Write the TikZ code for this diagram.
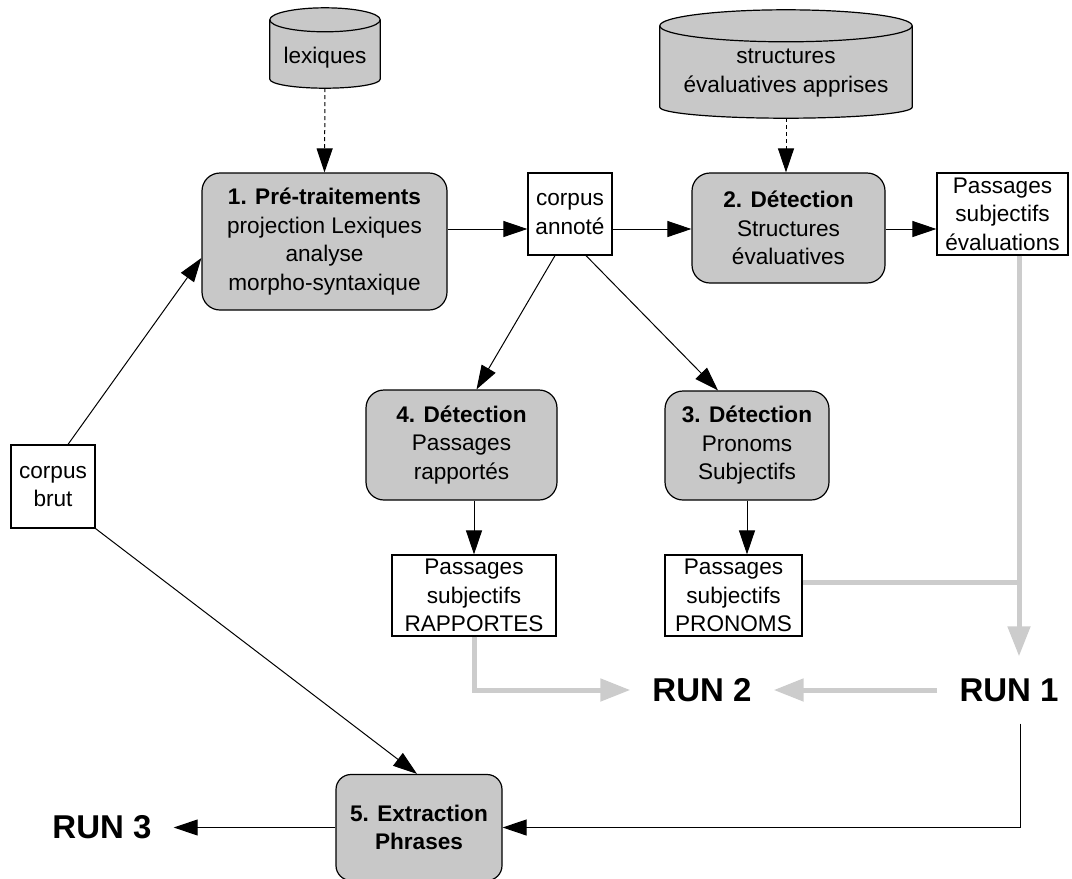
\documentclass[tikz,border=0pt]{standalone}
\usepackage{fontspec}
\setmainfont{Liberation Sans}
\usetikzlibrary{arrows.meta,calc}
\definecolor{boxgray}{RGB}{200,200,200}
\definecolor{linegray}{RGB}{204,204,204}
\newcommand\mycyl[3]{%
  \path[draw, line width=1.2pt, fill=boxgray] let \p1=(#1.north west), \p2=(#1.south east), \n1={(\x2-\x1)/2} in
    (\x1,\y1-#2) -- (\x1,\y2+#3) arc[start angle=180,end angle=360,x radius=\n1,y radius=#3] -- (\x2,\y1-#2) arc[start angle=0,end angle=180,x radius=\n1,y radius=#2] -- cycle;
  \draw[line width=1.2pt] let \p1=(#1.north west), \p2=(#1.south east), \n1={(\x2-\x1)/2} in
    (\x1,\y1-#2) arc[start angle=180,end angle=360,x radius=\n1,y radius=#2];
}
\begin{document}
\begin{tikzpicture}[x=1pt,y=1pt,
  every node/.style={font=\fontsize{22.6}{28.5}\selectfont},
  proc/.style={draw, line width=1.2pt, fill=boxgray, rounded corners=18pt, align=center, inner sep=0pt},
  dat/.style={draw, line width=1.2pt, fill=white, align=center, inner sep=0pt},
  cylnode/.style={inner sep=0pt},
  cyltext/.style={align=center, inner sep=0pt},
  runlbl/.style={font=\fontsize{33}{38}\selectfont\bfseries, inner sep=22pt},
  arr/.style={line width=1pt, -{Triangle[length=24pt,width=16pt]}},
  dashedarr/.style={arr, dash pattern=on 4pt off 3pt},
  grayline/.style={line width=5pt, draw=linegray},
  grayarr/.style={grayline, -{Triangle[length=30pt,width=22pt]}},
]
\useasboundingbox (0,0) rectangle (1072,-879);

% cylinders
\node[cylnode, minimum width=110pt, minimum height=80pt] (lex) at (325,-48) {};
\node[cylnode, minimum width=252pt, minimum height=108pt] (str) at (786,-64) {};
\mycyl{lex}{12pt}{9pt}
\mycyl{str}{16pt}{11pt}
\node[cyltext] (lext) at (325,-58) {lexiques};
\node[cyltext] (strt) at (786,-73) {structures\\évaluatives apprises};

% boxes
\node[proc, minimum width=245pt, minimum height=137pt] (b1) at (324.5,-241.5) {\textbf{1. Pré-traitements}\\projection Lexiques\\analyse\\morpho-syntaxique};
\node[dat, minimum width=84pt, minimum height=82pt] (ca) at (570,-214) {corpus\\annoté};
\node[proc, minimum width=193pt, minimum height=110pt] (b2) at (788.5,-228) {\textbf{2. Détection}\\Structures\\évaluatives};
\node[dat, minimum width=131pt, minimum height=82pt] (pe) at (1002.5,-214) {Passages\\subjectifs\\évaluations};
\node[proc, minimum width=191pt, minimum height=110pt] (b4) at (461.5,-445) {\textbf{4. Détection}\\Passages\\rapportés};
\node[proc, minimum width=164pt, minimum height=109pt] (b3) at (747,-445.5) {\textbf{3. Détection}\\Pronoms\\Subjectifs};
\node[dat, minimum width=84pt, minimum height=83pt] (cb) at (53,-486.5) {corpus\\brut};
\node[dat, minimum width=164pt, minimum height=81pt] (pr) at (474,-595.5) {Passages\\subjectifs\\RAPPORTES};
\node[dat, minimum width=137pt, minimum height=81pt] (pp) at (733.5,-595.5) {Passages\\subjectifs\\PRONOMS};
\node[proc, rounded corners=15pt, minimum width=166pt, minimum height=106pt] (b5) at (419,-827.5) {\textbf{5. Extraction}\\\textbf{Phrases}};

\node[runlbl] (run3) at (102,-827.5) {RUN 3};
\node[runlbl] (run2) at (702,-690) {RUN 2};
\node[runlbl] (run1) at (1009,-690) {RUN 1};
\coordinate (j) at (1019,-582);

% black connectors
\draw[dashedarr] (lex.south) -- (b1.north);
\draw[dashedarr] (str.south) -- (str.south |- b2.north);
\draw[arr] ([yshift=12.5pt]b1.east) -- ([yshift=-15pt]ca.west);
\draw[arr] ([yshift=-15pt]ca.east) -- ([yshift=-1pt]b2.west);
\draw[arr] ([yshift=-1pt]b2.east) -- ([yshift=-15pt]pe.west);
\draw[arr] ([xshift=-15pt]ca.south) -- ([xshift=15pt]b4.north);
\draw[arr] ([xshift=16pt]ca.south) -- ([xshift=-29pt]b3.north);
\draw[arr] ([xshift=12.5pt]b4.south) -- (pr.north);
\draw[arr] (b3.south) -- (b3.south |- pp.north);
\draw[arr] ([xshift=15pt]cb.north) -- ([yshift=-16.5pt]b1.west);
\draw[arr] (cb.south east) -- ([xshift=-2pt]b5.north);
\draw[arr] (b5.west) -- (run3.east);
\draw[arr] ([xshift=11pt]run1.south) |- (b5.east);

% gray connectors
\draw[grayarr] ([xshift=16.5pt]pe.south) -- ([xshift=10pt]run1.north);
\draw[grayline] ([yshift=13.5pt]pp.east) -- (j);
\draw[grayarr] (pr.south) |- (run2.west);
\draw[grayarr] (run1.west) -- (run2.east);
\end{tikzpicture}
\end{document}
